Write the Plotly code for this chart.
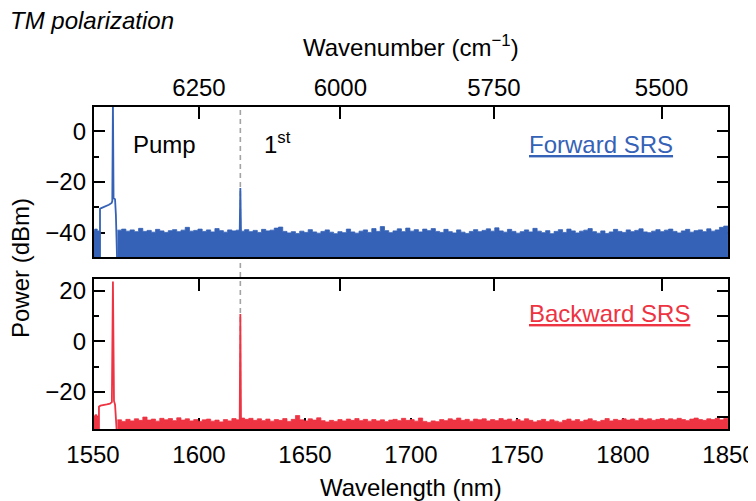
import plotly.graph_objects as go

# ---------------- data ----------------
wl_range = [1550, 1850]
wl_ticks = [1550, 1600, 1650, 1700, 1750, 1800, 1850]
wavenumber_ticks = [6250, 6000, 5750, 5500]          # cm^-1
stokes_wl = 1619.5                                   # 1st Stokes line (nm)

# Forward SRS (top panel)
fwd_left_wl = [1549.5, 1550.8, 1552.0, 1553.2]
fwd_left_dbm = [-39.0, -38.6, -39.3, -39.3]
fwd_pump_wl = [1553.3, 1553.3, 1553.9, 1555.5, 1557.5, 1558.8, 1559.1, 1559.4, 1559.7, 1560.4, 1560.8, 1561.4]
fwd_pump_dbm = [-52, -30.6, -30.3, -29.8, -29.0, -28.3, -27.5, 12, -26.4, -26.8, -33, -52]
fwd_stokes_wl = [1619.2, 1619.5, 1619.8]
fwd_stokes_dbm = [-39.5, -22.4, -39.5]
fwd_noise_start, noise_step = 1561.5, 2.0
fwd_noise_dbm = [
    -39.0, -38.6, -39.4, -38.9, -39.6, -38.3, -39.5, -39.1, -39.8, -38.7,
    -39.3, -39.9, -39.2, -38.8, -39.6, -39.0, -37.9, -39.4, -39.1, -38.6,
    -39.5, -38.9, -39.7, -38.4, -39.2, -39.8, -38.9, -39.3, -39.0, -39.4,
    -38.8, -39.6, -39.1, -39.9, -38.7, -39.3, -39.0, -38.2, -37.8, -39.5,
    -40.1, -39.6, -40.3, -39.4, -39.9, -38.8, -39.7, -40.2, -39.5, -38.9,
    -39.8, -40.4, -39.6, -40.0, -38.6, -39.7, -40.2, -39.4, -38.9, -39.9,
    -38.4, -39.5, -37.6, -39.2, -40.0,
    -39.3, -38.5, -39.6, -38.2, -39.4, -38.8, -39.7, -38.6, -39.2, -38.4,
    -39.5, -39.9, -38.7, -39.6, -40.1, -38.9, -39.8, -40.3, -39.5, -38.8,
    -39.6, -39.1, -38.5, -39.4, -38.1, -39.3, -39.8, -38.7, -39.5, -40.2,
    -39.6, -38.9, -39.7, -38.3, -39.4, -40.0, -39.2, -40.4, -39.5, -38.8,
    -39.9, -38.6, -39.3, -40.1, -39.4, -39.0, -38.4, -39.6, -40.2, -39.3,
    -40.3, -39.7, -38.7, -39.5, -39.9, -38.9, -39.6, -39.1, -38.5, -39.7,
    -40.0, -39.4, -38.8, -39.6, -39.0, -38.6, -39.5, -40.1, -39.3, -38.7,
    -39.8, -39.2, -38.9, -39.6, -38.5, -39.4, -38.9, -37.9, -37.4, -39.0,
]

# Backward SRS (bottom panel)
bwd_left_wl = [1549.5, 1550.9, 1551.9, 1552.7]
bwd_left_dbm = [-29.5, -29.0, -29.6, -29.6]
bwd_pump_wl = [1552.8, 1552.8, 1553.5, 1555.0, 1556.5, 1558.0, 1558.9, 1559.4, 1559.9, 1560.4, 1561.3]
bwd_pump_dbm = [-37, -25.8, -25.4, -25.0, -24.9, -24.6, -24.0, 23.6, -23.5, -25.0, -37]
bwd_stokes_wl = [1619.2, 1619.5, 1619.8]
bwd_stokes_dbm = [-31.0, 10.8, -31.0]
bwd_noise_start = 1561.5
bwd_noise_dbm = [
    -31.0, -31.6, -30.8, -31.4, -30.6, -31.2, -29.9, -31.1, -30.7, -31.5,
    -30.4, -31.0, -30.5, -31.3, -30.2, -31.1, -30.6, -31.4, -30.9, -31.6,
    -31.0, -30.7, -31.5, -31.1, -31.8, -30.9, -31.4, -30.5, -31.0, -30.3,
    -30.8, -30.4, -31.2, -30.6, -31.3, -30.7, -31.5, -30.9, -31.2, -30.5,
    -31.6, -30.8, -29.3, -31.0, -31.4, -30.6, -31.1, -30.2, -31.3, -31.8,
    -31.2, -31.6, -30.9, -31.4, -30.7, -31.2, -30.5, -31.3, -30.8, -31.5,
    -30.9, -31.4, -31.0, -31.7, -31.1,
    -30.8, -31.3, -30.4, -31.2, -30.9, -31.5, -30.3, -31.6, -32.0, -31.4,
    -31.7, -30.9, -31.3, -30.6, -31.1, -30.3, -31.2, -30.8, -31.5, -30.7,
    -31.0, -30.6, -31.4, -30.9, -31.3, -30.5, -31.1, -30.7, -31.5, -30.9,
    -31.4, -30.6, -31.2, -31.8, -31.3, -30.8, -31.6, -31.0, -31.5, -31.9,
    -31.2, -30.7, -31.4, -30.9, -31.6, -31.1, -30.6, -31.3, -31.7, -31.2,
    -30.5, -31.4, -30.8, -31.2, -30.6, -31.1, -30.7, -31.3, -30.4, -31.0,
    -30.6, -31.2, -30.8, -30.5, -31.1, -30.6, -31.0, -30.4, -30.9, -31.3,
    -30.7, -30.3, -30.9, -31.2, -30.6, -30.9, -30.4, -31.0, -30.5, -30.8,
]

top_range = [-50, 10]
bot_range = [-35, 25]

# ---------------- styling ----------------
BLUE = "#3562B6"
RED = "#EE3342"
FONT = "Liberation Sans, Arial, Helvetica, sans-serif"
TICKFONT = dict(family=FONT, size=24, color="black")

fwd_noise_wl = [fwd_noise_start + noise_step * i for i in range(len(fwd_noise_dbm))]
bwd_noise_wl = [bwd_noise_start + noise_step * i for i in range(len(bwd_noise_dbm))]


def filled(x, y, floor, color, xa, ya):
    px_ = list(x) + [x[-1], x[0]]
    py_ = list(y) + [floor, floor]
    return go.Scatter(x=px_, y=py_, mode="lines", fill="toself", fillcolor=color,
                      line=dict(color=color, width=0.8, shape="hv"),
                      xaxis=xa, yaxis=ya, hoverinfo="skip", showlegend=False)


def line(x, y, color, xa, ya):
    return go.Scatter(x=x, y=y, mode="lines", line=dict(color=color, width=1.8),
                      xaxis=xa, yaxis=ya, hoverinfo="skip", showlegend=False)


fig = go.Figure()
# top panel
fig.add_trace(filled(fwd_left_wl, fwd_left_dbm, top_range[0] - 5, BLUE, "x", "y"))
fig.add_trace(filled(fwd_noise_wl, fwd_noise_dbm, top_range[0] - 5, BLUE, "x", "y"))
fig.add_trace(line(fwd_pump_wl, fwd_pump_dbm, BLUE, "x", "y"))
fig.add_trace(line(fwd_stokes_wl, fwd_stokes_dbm, BLUE, "x", "y"))
# bottom panel
fig.add_trace(filled(bwd_left_wl, bwd_left_dbm, bot_range[0] - 5, RED, "x2", "y2"))
fig.add_trace(filled(bwd_noise_wl, bwd_noise_dbm, bot_range[0] - 5, RED, "x2", "y2"))
fig.add_trace(line(bwd_pump_wl, bwd_pump_dbm, RED, "x2", "y2"))
fig.add_trace(line(bwd_stokes_wl, bwd_stokes_dbm, RED, "x2", "y2"))
# invisible traces so the overlay axes exist
for xa, ya in [("x3", "y"), ("x4", "y2"), ("x", "y3"), ("x2", "y4")]:
    fig.add_trace(go.Scatter(x=[wl_range[0]], y=[top_range[0] - 10], xaxis=xa, yaxis=ya,
                             mode="markers", marker=dict(size=1, opacity=0),
                             showlegend=False, hoverinfo="skip"))

# The page body has an 8px margin, so the figure is 8px smaller and all
# pixel positions below are shifted by that offset.
OFF = 8
W, H = 756 - OFF, 501 - OFF


def px(v):
    return v - OFF


x_dom = [px(93) / W, px(729) / W]
top_dom = [1 - px(258) / H, 1 - px(106) / H]
bot_dom = [1 - px(430) / H, 1 - px(278) / H]

wn_pos = [1e7 / k for k in wavenumber_ticks]
wn_txt = [str(k) for k in wavenumber_ticks]

common = dict(showgrid=False, zeroline=False, showline=False, ticks="inside",
              tickcolor="black", tickwidth=1.6, layer="below traces", tickfont=TICKFONT,
              automargin=False)

fig.update_layout(
    width=W, height=H,
    margin=dict(l=0, r=0, t=0, b=0, pad=0),
    paper_bgcolor="white", plot_bgcolor="rgba(0,0,0,0)",
    showlegend=False,
    font=dict(family=FONT, color="black"),
    xaxis=dict(domain=x_dom, anchor="y", range=wl_range, tickvals=wl_ticks,
               showticklabels=False, ticklen=12, **common),
    xaxis2=dict(domain=x_dom, anchor="y2", range=wl_range, tickvals=wl_ticks,
                ticklen=12, ticklabelstandoff=8, **common),
    xaxis3=dict(overlaying="x", side="top", anchor="y", range=wl_range,
                tickvals=wn_pos, ticktext=wn_txt, ticklen=13, ticklabelstandoff=4, **common),
    xaxis4=dict(overlaying="x2", side="top", anchor="y2", range=wl_range,
                tickvals=wn_pos, showticklabels=False, ticklen=13, **common),
    yaxis=dict(domain=top_dom, anchor="x", range=top_range, tickvals=[-40, -20, 0],
               ticklen=12, ticklabelstandoff=6,
               minor=dict(tickvals=[-30, -10], ticklen=6, ticks="inside",
                          tickcolor="black", tickwidth=1.6), **common),
    yaxis2=dict(domain=bot_dom, anchor="x2", range=bot_range, tickvals=[-20, 0, 20],
                ticklen=12, ticklabelstandoff=6,
                minor=dict(tickvals=[-30, -10, 10], ticklen=6, ticks="inside",
                           tickcolor="black", tickwidth=1.6), **common),
    yaxis3=dict(overlaying="y", side="right", anchor="x", range=top_range,
                tickvals=[-40, -30, -20, -10, 0], showticklabels=False, ticklen=12, **common),
    yaxis4=dict(overlaying="y2", side="right", anchor="x2", range=bot_range,
                tickvals=[-30, -20, -10, 0, 10, 20], showticklabels=False, ticklen=12, **common),
)

shapes = [
    dict(type="line", xref="x", yref="paper", x0=stokes_wl, x1=stokes_wl,
         y0=bot_dom[0], y1=top_dom[1], layer="below",
         line=dict(color="#A3A3A3", width=1.6, dash="5px,4px")),
    dict(type="rect", xref="x domain", yref="y domain", x0=0, x1=1, y0=0, y1=1,
         line=dict(color="black", width=2), layer="above"),
    dict(type="rect", xref="x2 domain", yref="y2 domain", x0=0, x1=1, y0=0, y1=1,
         line=dict(color="black", width=2), layer="above"),
]
fig.update_layout(shapes=shapes)


def ann(text, x, y, size=24, color="black", xanchor="center", yanchor="middle", angle=0):
    return dict(text=text, x=px(x) / W, y=1 - px(y) / H, xref="paper", yref="paper",
                xanchor=xanchor, yanchor=yanchor, showarrow=False, textangle=angle,
                font=dict(family=FONT, size=size, color=color))


fig.update_layout(annotations=[
    ann("<i>TM polarization</i>", OFF, OFF - 3, size=24, xanchor="left", yanchor="top"),
    ann("Wavenumber (cm<sup>−1</sup>)", 411, 46),
    ann("Wavelength (nm)", 411, 487),
    ann("Power (dBm)", 20, 268, angle=-90),
    ann("Pump", 131, 145, xanchor="left"),
    ann("1<sup>st</sup>", 262, 143, xanchor="left"),
    ann("<u>Forward SRS</u>", 527, 145, color=BLUE, xanchor="left"),
    ann("<u>Backward SRS</u>", 527, 313, color=RED, xanchor="left"),
])

fig.write_html("out.html")
